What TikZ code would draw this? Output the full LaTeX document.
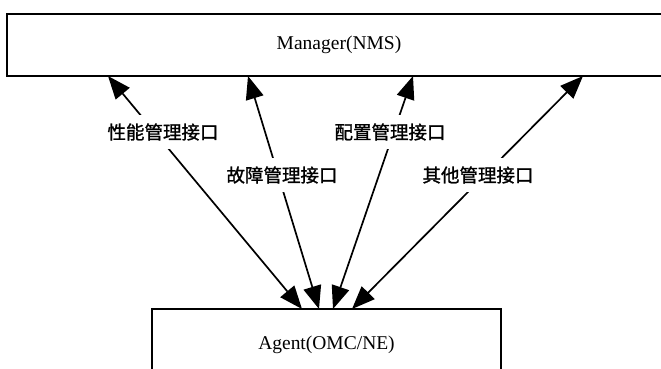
\documentclass[tikz,border=0pt]{standalone}
\usepackage{fontspec}
\setmainfont{Liberation Serif}
\newfontfamily\cjk[FakeBold=1.2]{Noto Sans CJK SC}
\usetikzlibrary{arrows.meta}
\begin{document}
\begin{tikzpicture}[x=1pt,y=-1pt,
  box/.style={draw,line width=1.6pt,inner sep=0pt,font=\fontsize{19.5}{22}\selectfont},
  link/.style={line width=1.7pt,{Triangle[length=23pt,width=18pt]}-{Triangle[length=23pt,width=18pt]}},
  lbl/.style={fill=white,inner xsep=3pt,inner ysep=8pt,font=\cjk\fontsize{18.5}{22}\selectfont}]
\useasboundingbox (0,0) rectangle (661,369);
\node[box,minimum width=664pt,minimum height=62pt] (mgr) at (339,45) {Manager(NMS)};
\node[box,minimum width=349pt,minimum height=72pt] (agt) at (326.5,345) {Agent(OMC/NE)};
\coordinate (m1) at (108,76);
\coordinate (m2) at (248,76);
\coordinate (m3) at (413,76);
\coordinate (m4) at (583,76);
\coordinate (a1) at (302,309);
\coordinate (a2) at (319,309);
\coordinate (a3) at (333,309);
\coordinate (a4) at (352,309);
\draw[link] (m1) -- (a1);
\draw[link] (m2) -- (a2);
\draw[link] (m3) -- (a3);
\draw[link] (m4) -- (a4);
\node[lbl] (l1) at (163,132) {性能管理接口};
\node[lbl] (l2) at (282,175) {故障管理接口};
\node[lbl] (l3) at (390,132) {配置管理接口};
\node[lbl] (l4) at (478,175) {其他管理接口};
\end{tikzpicture}
\end{document}
